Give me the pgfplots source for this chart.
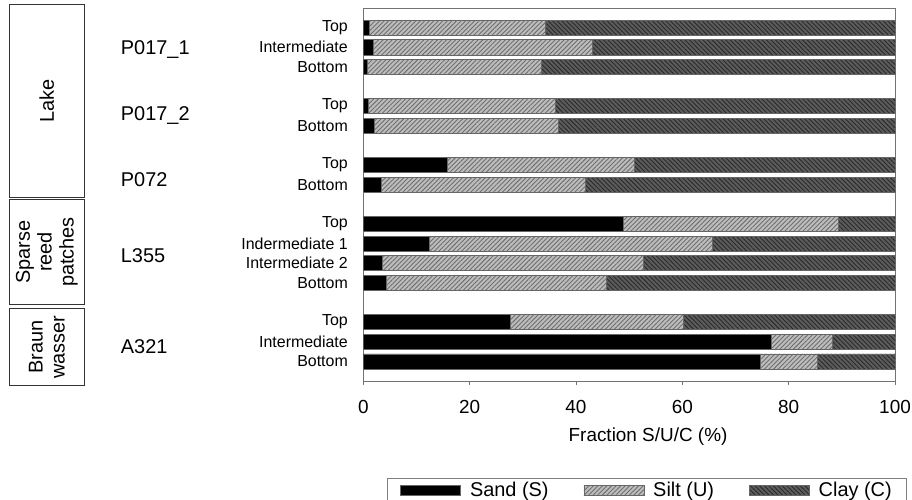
\documentclass[border=0pt]{standalone}
\usepackage{fontspec}
\setmainfont{Liberation Sans}
\usepackage{pgfplots}
\usepackage{pgfplotstable}
\pgfplotsset{compat=1.18}
\usetikzlibrary{patterns.meta}

\definecolor{siltbase}{HTML}{BDBDBD}
\definecolor{siltline}{HTML}{6E6E6E}
\definecolor{claybase}{HTML}{5C5C5C}
\definecolor{clayline}{HTML}{2A2A2A}

% Grain size fractions (%) per core layer; pos = row on the vertical axis
\pgfplotstableread{
pos  sand  silt  clay
18   1.2   33.0  65.8
17   1.8   41.3  56.9
16   0.7   32.7  66.6
14   0.9   35.2  63.9
13   2.0   34.7  63.3
11   15.8  35.2  49.0
10   3.3   38.4  58.3
8    48.9  40.4  10.7
7    12.5  53.2  34.3
6    3.6   49.0  47.4
5    4.3   41.4  54.3
3    27.7  32.4  39.9
2    76.8  11.4  11.8
1    74.7  10.7  14.6
}\fractions

\tikzset{
  sandbar/.style={fill=black, draw=black!60, line width=0.6bp},
  siltbar/.style={fill=siltbase, draw=black!60, line width=0.6bp,
    postaction={pattern={Lines[angle=45,distance=3.2bp,line width=0.9bp]}, pattern color=siltline}},
  claybar/.style={fill=claybase, draw=black!60, line width=0.6bp,
    postaction={pattern={Lines[angle=-45,distance=3.2bp,line width=0.9bp]}, pattern color=clayline}},
}

\begin{document}
\begin{tikzpicture}[x=1bp,y=1bp]
\useasboundingbox (0,0) rectangle (912,500);
\clip (0,0) rectangle (912,500);

% habitat boxes
\draw[black!80, line width=1bp] (9.3,302.3) rectangle (84.3,495);
\draw[black!80, line width=1bp] (9.3,195) rectangle (84.3,300.7);
\draw[black!80, line width=1bp] (9.3,114) rectangle (84.3,191.7);
\begin{scope}[every node/.style={font=\fontsize{20}{22}\selectfont, inner sep=0pt}]
\node[rotate=90] at (46.8,398.7) {Lake};
\node[rotate=90, align=center] at (46.8,248) {Sparse\\reed\\patches};
\node[rotate=90, align=center] at (46.8,153) {Braun\\wasser};

% core names
\node[anchor=base west] at (120.7,445.6) {P017\_1};
\node[anchor=base west] at (120.7,379) {P017\_2};
\node[anchor=base west] at (120.7,313.6) {P072};
\node[anchor=base west] at (120.7,237) {L355};
\node[anchor=base west] at (120.7,146.1) {A321};
\end{scope}

\begin{axis}[
  at={(363.3bp,119bp)}, anchor=south west,
  scale only axis, width=531.7bp, height=373bp,
  xbar stacked, bar width=0.77,
  xmin=0, xmax=100, ymin=0, ymax=19,
  xtick={0,20,...,100},
  ytick={1,2,3,5,6,7,8,10,11,13,14,16,17,18},
  yticklabels={Bottom,Intermediate,Top,Bottom,Intermediate 2,Indermediate 1,Top,Bottom,Top,Bottom,Top,Bottom,Intermediate,Top},
  /pgf/number format/assume math mode=true,
  axis line style={black!55, line width=0.8bp},
  tick align=outside, major tick length=4bp,
  xtick pos=bottom, ytick pos=left,
  x tick style={black!55, line width=0.8bp},
  y tick style={draw=none},
  xticklabel style={font=\fontsize{19}{22}\selectfont, yshift=-12bp},
  yticklabel style={font=\fontsize{16}{18}\selectfont, xshift=-8bp},
  xlabel={Fraction S/U/C (\%)},
  xlabel style={font=\fontsize{19}{22}\selectfont, anchor=center, at={(axis description cs:0.5355,-0.15)}},
  legend columns=3,
  legend image code/.code={\draw[#1] (0bp,-5bp) rectangle (60bp,5bp);},
  legend style={at={(axis description cs:0.0446,-0.26)}, anchor=north west,
    draw=black!50, line width=0.8bp, font=\fontsize{20}{22}\selectfont,
    inner xsep=13bp, inner ysep=2bp,
    /tikz/every odd column/.append style={column sep=7bp},
    /tikz/every even column/.append style={column sep=33bp}},
]
\addplot[sandbar] table[x=sand, y=pos] {\fractions};
\addplot[siltbar] table[x=silt, y=pos] {\fractions};
\addplot[claybar] table[x=clay, y=pos] {\fractions};
\legend{Sand (S), Silt (U), Clay (C)}
\end{axis}
\end{tikzpicture}
\end{document}
